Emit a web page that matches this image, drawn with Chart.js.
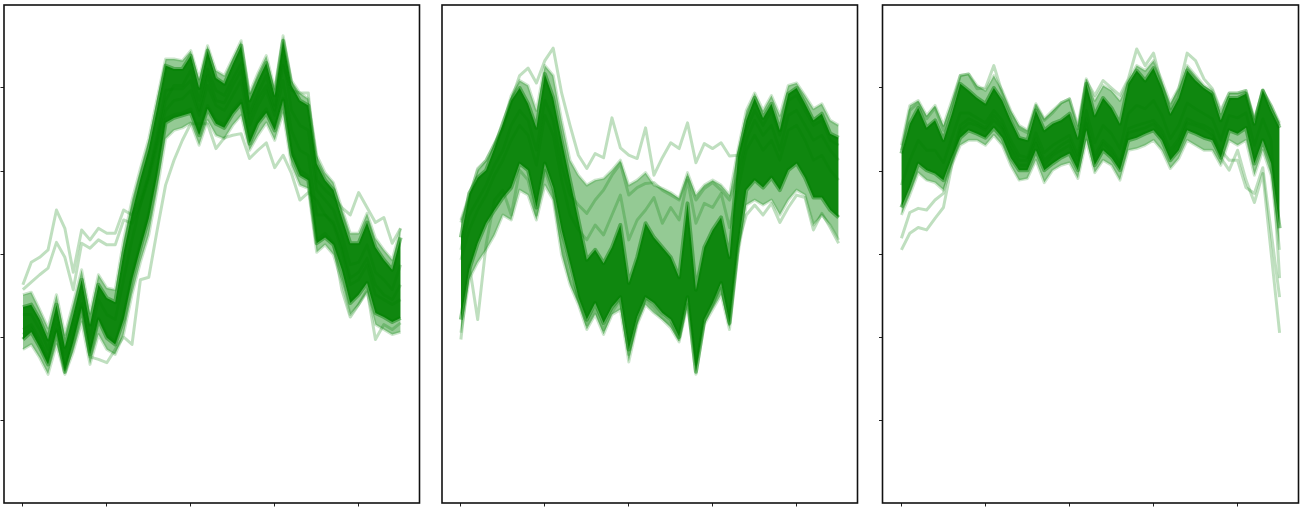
<!DOCTYPE html>
<html>
<head>
<meta charset="utf-8">
<script src="https://cdn.jsdelivr.net/npm/chart.js@4.4.1/dist/chart.umd.min.js"></script>
<style>
html,body{margin:0;padding:0;background:#fff;width:1309px;height:509px;overflow:hidden;}
canvas{position:absolute;top:0;}
</style>
</head>
<body>
<canvas id="c1" width="424" height="509" style="left:0px"></canvas>
<canvas id="c2" width="426" height="509" style="left:436px"></canvas>
<canvas id="c3" width="427" height="509" style="left:876px"></canvas>
<script>
// ---- x positions (time steps) and tick values ----
const steps = [0,1,2,3,4,5,6,7,8,9,10,11,12,13,14,15,16,17,18,19,20,21,22,23,24,25,26,27,28,29,30,31,32,33,34,35,36,37,38,39,40,41,42,43,44,45];
const xTickValues = [0,10,20,30,40];
const yTickValues = [-2,-1,0,1,2];

// ---- panel 1 ----
const p1OuterTop = [-0.49,-0.46,-0.67,-0.89,-0.49,-0.97,-0.59,-0.19,-0.71,-0.25,-0.41,-0.43,0.17,0.65,1.03,1.39,1.88,2.35,2.35,2.33,2.45,2.11,2.51,2.21,2.15,2.36,2.57,1.94,2.18,2.39,1.99,2.63,2.09,1.94,1.87,1.19,0.98,0.86,0.55,0.25,0.25,0.49,0.19,0.05,-0.07,0.31];
const p1OuterBottom = [-1.15,-1.09,-1.25,-1.45,-1.09,-1.45,-1.18,-0.82,-1.33,-0.97,-1.15,-1.21,-0.97,-0.49,-0.10,0.23,0.77,1.39,1.49,1.52,1.58,1.31,1.61,1.43,1.39,1.55,1.67,1.25,1.43,1.58,1.37,1.70,1.07,0.83,0.79,0.02,0.11,-0.01,-0.34,-0.73,-0.61,-0.46,-0.85,-0.91,-0.97,-0.94];
const p1CoreTop = [-0.64,-0.61,-0.79,-1.03,-0.61,-1.12,-0.73,-0.31,-0.85,-0.37,-0.53,-0.58,0.02,0.50,0.91,1.27,1.76,2.27,2.23,2.23,2.39,2.00,2.45,2.12,2.05,2.29,2.51,1.85,2.09,2.30,1.91,2.57,2.03,1.85,1.79,1.09,0.89,0.77,0.44,0.13,0.13,0.38,0.08,-0.07,-0.19,0.20];
const p1CoreBottom = [-1.03,-0.94,-1.12,-1.33,-0.94,-1.42,-1.06,-0.65,-1.21,-0.79,-1.01,-1.09,-0.79,-0.31,0.07,0.43,0.95,1.58,1.64,1.67,1.70,1.43,1.75,1.57,1.52,1.69,1.81,1.33,1.57,1.70,1.49,1.85,1.19,0.95,0.89,0.13,0.20,0.11,-0.19,-0.59,-0.49,-0.35,-0.71,-0.76,-0.82,-0.77];
const p1LineA = [-0.37,-0.10,-0.04,0.05,0.53,0.31,-0.22,0.29,0.17,0.31,0.25,0.25,0.53,0.47,0.65,0.95,1.37,1.85,2.03,2.03,2.21,1.85,2.23,1.97,1.91,2.11,2.30,1.70,1.94,2.15,1.79,2.39,1.73,1.55,1.49,0.77,0.65,0.53,0.23,-0.13,-0.10,0.11,-0.22,-0.31,-0.43,-0.13];
const p1LineB = [-0.43,-0.34,-0.25,-0.17,0.14,-0.04,-0.43,0.13,0.07,0.17,0.11,0.11,0.41,0.37,0.59,0.91,1.31,1.73,1.85,1.87,1.97,1.67,2.03,1.79,1.73,1.91,2.09,1.55,1.79,1.97,1.67,2.09,1.49,1.25,1.19,0.47,0.47,0.35,0.05,-0.37,-0.31,-0.13,-0.49,-0.55,-0.61,-0.55];
const p1LineC = [-0.91,-0.85,-1.03,-1.25,-0.85,-1.33,-0.97,-0.59,-1.24,-1.27,-1.31,-1.15,-1.00,-1.09,-0.31,-0.28,0.29,0.83,1.13,1.37,1.57,1.57,1.57,1.27,1.40,1.43,1.45,1.15,1.25,1.34,1.04,1.19,0.97,0.65,0.74,0.65,0.47,0.38,0.11,-0.29,-0.22,-0.05,-0.37,-0.49,-0.55,-0.37];
const p1LineD = [-0.73,-0.73,-0.91,-1.15,-0.73,-1.21,-0.85,-0.46,-1.01,-0.55,-0.73,-0.79,-0.31,0.17,0.59,0.95,1.43,1.97,1.99,1.99,2.09,1.73,2.15,1.85,1.82,2.03,2.21,1.63,1.87,2.03,1.73,2.27,1.97,1.94,1.94,0.89,0.77,0.68,0.56,0.47,0.74,0.56,0.38,0.44,0.13,0.31];
const p1LineE = [-0.97,-0.89,-1.09,-1.30,-0.91,-1.39,-1.03,-0.61,-1.18,-0.77,-0.97,-1.06,-0.73,-0.25,0.13,0.50,1.01,1.63,1.68,1.70,1.75,1.46,1.79,1.61,1.56,1.73,1.85,1.37,1.61,1.75,1.52,1.88,1.25,1.01,0.94,0.17,0.25,0.13,-0.43,-0.76,-0.61,-0.43,-1.03,-0.85,-0.91,-0.83];

// ---- panel 2 ----
const p2OuterTop = [0.41,0.71,1.01,1.13,1.33,1.55,1.91,2.09,2.03,1.73,2.27,2.15,1.61,1.13,0.95,0.83,0.89,0.91,1.01,1.13,0.83,0.89,0.98,0.83,0.79,0.74,0.67,0.98,0.71,0.83,0.89,0.83,0.71,1.25,1.73,1.94,1.73,1.91,1.67,2.03,2.06,1.91,1.75,1.81,1.61,1.55];
const p2OuterBottom = [-0.95,-0.30,-0.10,0.05,0.23,0.47,0.41,0.77,0.71,0.41,0.83,0.65,-0.01,-0.37,-0.61,-0.91,-0.73,-0.97,-0.73,-0.67,-1.30,-0.85,-0.61,-0.71,-0.79,-0.89,-1.06,-0.61,-1.45,-0.85,-0.67,-0.49,-0.91,-0.01,0.59,0.65,0.59,0.65,0.47,0.65,0.77,0.71,0.35,0.47,0.35,0.17];
const p2CoreTop = [0.20,0.73,0.92,1.01,1.28,1.57,1.85,2.00,1.81,1.52,2.17,1.88,1.37,0.89,0.41,-0.07,0.05,-0.11,0.08,0.35,-0.35,-0.04,0.37,0.20,0.08,-0.04,-0.28,0.61,-0.43,0.08,0.29,0.44,-0.04,1.16,1.61,1.88,1.64,1.81,1.49,1.93,2.00,1.81,1.61,1.69,1.45,1.40];
const p2CoreBottom = [-0.79,-0.19,0.13,0.37,0.53,0.68,0.80,1.09,1.01,0.56,1.09,0.80,0.29,-0.11,-0.52,-0.79,-0.59,-0.83,-0.64,-0.52,-1.15,-0.76,-0.52,-0.59,-0.71,-0.79,-1.00,-0.52,-1.42,-0.79,-0.59,-0.35,-0.83,0.08,0.77,0.89,0.80,0.92,0.77,1.01,1.09,0.92,0.68,0.68,0.53,0.44];
const p2LineA = [0.38,0.68,1.03,1.13,1.33,1.51,1.85,2.15,2.24,2.06,2.33,2.48,1.94,1.55,1.19,1.03,1.21,1.16,1.64,1.28,1.19,1.15,1.52,0.95,1.16,1.34,1.27,1.58,1.10,1.33,1.27,1.34,1.18,1.19,1.49,1.73,1.55,1.73,1.43,1.85,1.91,1.73,1.55,1.61,1.37,1.31];
const p2LineB = [0.05,0.47,0.65,0.83,1.07,1.25,1.55,1.73,1.61,1.25,1.85,1.61,1.07,0.71,0.59,0.49,0.65,0.77,0.95,1.09,0.71,0.80,0.85,0.86,0.77,0.71,0.65,0.92,0.65,0.79,0.86,0.77,0.65,0.95,1.37,1.61,1.43,1.55,1.25,1.67,1.73,1.55,1.37,1.43,1.25,1.13];
const p2LineC = [-0.07,0.29,0.53,0.71,0.95,1.13,1.37,1.55,1.43,1.07,1.67,1.43,0.89,0.47,0.29,0.17,0.35,0.23,0.47,0.71,0.17,0.41,0.53,0.68,0.37,0.56,0.41,0.89,0.37,0.61,0.56,0.73,0.32,0.77,1.25,1.43,1.25,1.37,1.13,1.49,1.55,1.37,1.13,1.19,1.01,0.89];
const p2LineD = [-1.03,-0.13,-0.79,0.11,0.65,0.77,0.47,1.01,0.89,0.47,1.01,0.71,0.11,-0.31,-0.55,-0.85,-0.67,-0.91,-0.70,-0.55,-1.21,-0.82,-0.55,-0.65,-0.77,-0.85,-1.03,-0.55,-1.33,-0.82,-0.61,-0.41,-0.85,0.11,0.47,0.59,0.47,0.61,0.38,0.56,0.71,0.68,0.29,0.49,0.32,0.13];

// ---- panel 3 ----
const p3OuterTop = [1.31,1.79,1.85,1.67,1.79,1.55,1.85,2.15,2.17,2.03,1.97,2.15,1.97,1.73,1.55,1.49,1.81,1.63,1.73,1.82,1.87,1.55,2.11,1.85,2.03,1.97,1.85,2.09,2.27,2.21,2.33,2.09,1.82,2.00,2.27,2.15,2.03,1.97,1.70,1.94,1.94,1.97,1.63,1.97,1.79,1.58];
const p3OuterBottom = [0.47,0.71,0.98,0.89,0.86,0.77,1.07,1.31,1.37,1.37,1.31,1.43,1.31,1.07,0.89,0.91,1.13,0.86,1.01,1.07,1.10,0.91,1.37,0.98,1.13,1.07,0.89,1.25,1.27,1.31,1.37,1.25,1.03,1.15,1.37,1.31,1.25,1.25,1.07,1.37,1.31,1.37,0.95,1.25,0.95,0.05];
const p3CoreTop = [1.21,1.57,1.76,1.52,1.61,1.37,1.69,2.05,1.97,1.88,1.81,2.00,1.85,1.61,1.40,1.37,1.73,1.49,1.57,1.61,1.69,1.40,2.05,1.67,1.88,1.76,1.57,2.05,2.21,2.09,2.24,2.00,1.69,1.88,2.21,2.09,2.00,1.93,1.61,1.88,1.88,1.93,1.57,1.97,1.73,1.52];
const p3CoreBottom = [0.56,0.80,1.09,1.01,0.97,0.89,1.16,1.40,1.49,1.45,1.40,1.52,1.40,1.16,1.01,1.01,1.25,1.01,1.09,1.16,1.21,1.01,1.49,1.07,1.25,1.16,1.01,1.37,1.40,1.45,1.49,1.37,1.13,1.25,1.49,1.45,1.40,1.37,1.16,1.49,1.45,1.52,1.09,1.37,1.09,0.31];
const p3LineA = [1.25,1.73,1.82,1.63,1.76,1.49,1.79,2.15,2.17,1.99,2.00,2.27,1.94,1.70,1.51,1.46,1.79,1.61,1.70,1.82,1.87,1.51,2.09,1.91,2.09,2.00,1.91,2.11,2.47,2.27,2.42,2.03,1.75,1.99,2.42,2.33,2.11,1.99,1.73,1.94,1.94,1.97,1.61,1.97,1.79,1.55];
const p3LineB = [0.19,0.50,0.55,0.53,0.65,0.73,1.15,1.55,1.63,1.58,1.52,1.67,1.55,1.31,1.13,1.13,1.39,1.13,1.22,1.31,1.37,1.13,1.63,1.19,1.37,1.27,1.10,1.51,1.55,1.58,1.61,1.49,1.25,1.39,1.63,1.58,1.55,1.49,1.16,1.01,1.25,0.89,0.62,0.97,0.01,-0.95];
const p3LineC = [0.05,0.25,0.32,0.29,0.43,0.56,1.07,1.49,1.58,1.55,1.49,1.61,1.51,1.25,1.07,1.07,1.34,1.07,1.19,1.25,1.31,1.07,1.58,1.13,1.33,1.22,1.07,1.46,1.49,1.52,1.57,1.43,1.19,1.34,1.58,1.55,1.51,1.43,1.25,1.13,1.13,0.80,0.73,1.04,0.26,-0.52];
const p3LineD = [0.83,1.13,1.37,1.25,1.25,1.10,1.40,1.70,1.70,1.64,1.58,1.73,1.61,1.37,1.19,1.16,1.46,1.22,1.31,1.37,1.43,1.19,1.73,1.34,1.55,1.45,1.27,1.69,1.79,1.75,1.85,1.67,1.39,1.55,1.82,1.75,1.69,1.63,1.37,1.67,1.64,1.70,1.31,1.63,1.37,-0.29];

// ---- styling ----
const CORE_FILL = 'rgba(0,128,0,0.9)';
const CORE_EDGE = 'rgba(0,128,0,0.45)';
const OUTER_FILL = 'rgba(0,128,0,0.42)';
const OUTER_EDGE = 'rgba(0,128,0,0.2)';
const LINE_COLOR = 'rgba(0,128,0,0.25)';

function pts(vals) { return vals.map((v, i) => ({ x: steps[i], y: v })); }

function bandDatasets(bottom, top, fillColor, edgeColor, edgeWidth, order) {
  return [
    { data: pts(bottom), borderColor: edgeColor, borderWidth: edgeWidth, fill: false, order: order },
    { data: pts(top), borderColor: edgeColor, borderWidth: edgeWidth, fill: '-1', backgroundColor: fillColor, order: order }
  ];
}
function lineDataset(vals) {
  return { data: pts(vals), borderColor: LINE_COLOR, borderWidth: 3, fill: false, order: 1 };
}

const framePlugin = {
  id: 'frame',
  afterDatasetsDraw(chart) {
    const { ctx, chartArea: a } = chart;
    ctx.save();
    ctx.strokeStyle = '#111';
    ctx.lineWidth = 1.6;
    ctx.strokeRect(a.left, a.top, a.right - a.left, a.bottom - a.top);
    ctx.restore();
  }
};

function makePanel(id, padLeft, datasets, showYTicks) {
  new Chart(document.getElementById(id), {
    type: 'line',
    data: { datasets: datasets },
    options: {
      responsive: false,
      animation: false,
      events: [],
      layout: { padding: { left: padLeft, right: 4.5, top: 5, bottom: 0 } },
      elements: {
        point: { radius: 0 },
        line: { tension: 0, borderJoinStyle: 'round', borderCapStyle: 'butt' }
      },
      plugins: { legend: { display: false }, tooltip: { enabled: false } },
      scales: {
        x: {
          type: 'linear', min: -2.25, max: 47.25,
          afterBuildTicks: (axis) => { axis.ticks = xTickValues.map(v => ({ value: v })); },
          afterFit: (axis) => { axis.height = 6; },
          ticks: { display: false },
          grid: { display: true, drawOnChartArea: false, drawTicks: true, tickLength: 3.5, color: '#222', lineWidth: 1 },
          border: { display: false }
        },
        y: {
          type: 'linear', min: -3, max: 3,
          afterBuildTicks: (axis) => { axis.ticks = yTickValues.map(v => ({ value: v })); },
          afterFit: (axis) => { axis.width = 4; },
          ticks: { display: false },
          grid: { display: showYTicks, drawOnChartArea: false, drawTicks: true, tickLength: 3.5, color: '#222', lineWidth: 1 },
          border: { display: false }
        }
      }
    },
    plugins: [framePlugin]
  });
}

makePanel('c1', 0, [
  ...bandDatasets(p1OuterBottom, p1OuterTop, OUTER_FILL, OUTER_EDGE, 3, 3),
  ...bandDatasets(p1CoreBottom, p1CoreTop, CORE_FILL, CORE_EDGE, 4, 2),
  lineDataset(p1LineA), lineDataset(p1LineB), lineDataset(p1LineC),
  lineDataset(p1LineD), lineDataset(p1LineE)
], true);

makePanel('c2', 2, [
  ...bandDatasets(p2OuterBottom, p2OuterTop, OUTER_FILL, OUTER_EDGE, 3, 3),
  ...bandDatasets(p2CoreBottom, p2CoreTop, CORE_FILL, CORE_EDGE, 4, 2),
  lineDataset(p2LineA), lineDataset(p2LineB), lineDataset(p2LineC), lineDataset(p2LineD)
], false);

makePanel('c3', 2.5, [
  ...bandDatasets(p3OuterBottom, p3OuterTop, OUTER_FILL, OUTER_EDGE, 3, 3),
  ...bandDatasets(p3CoreBottom, p3CoreTop, CORE_FILL, CORE_EDGE, 4, 2),
  lineDataset(p3LineA), lineDataset(p3LineB), lineDataset(p3LineC), lineDataset(p3LineD)
], true);
</script>
</body>
</html>
